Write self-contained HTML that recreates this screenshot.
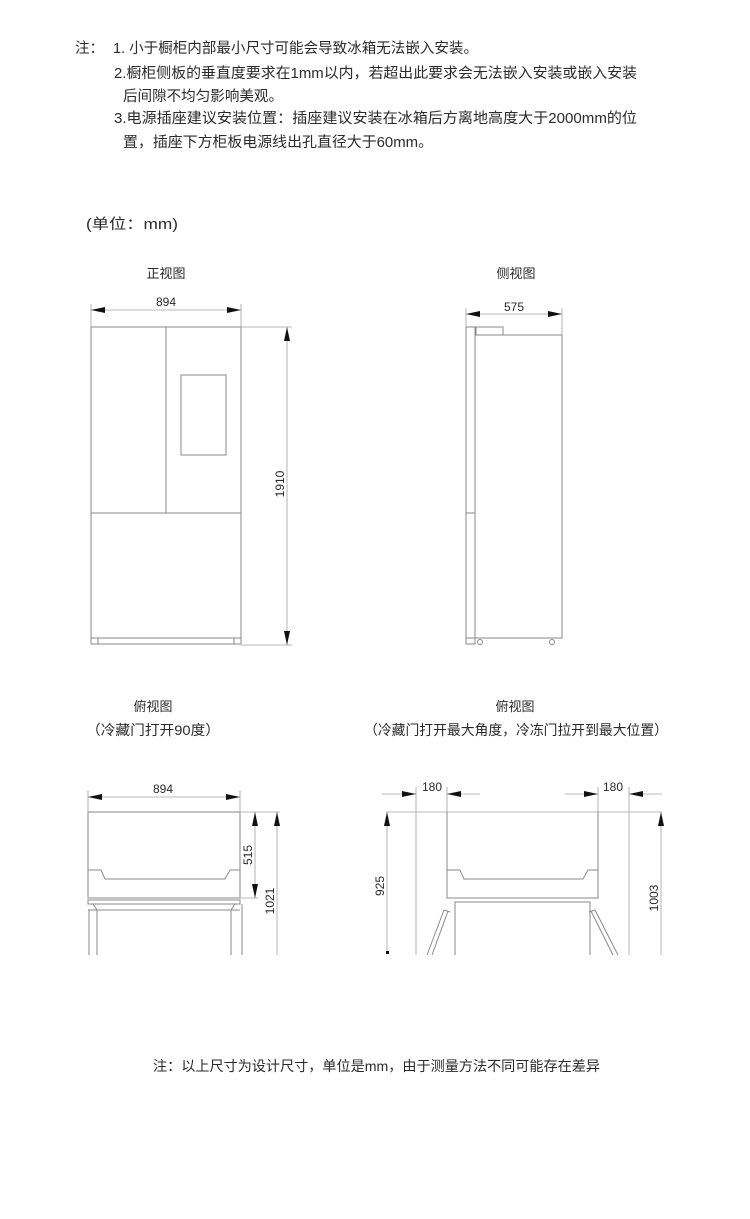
<!DOCTYPE html>
<html><head><meta charset="utf-8"><style>
html,body{margin:0;padding:0;background:#fff;}
svg{display:block;}
text{font-family:"Liberation Sans","Noto Sans CJK SC",sans-serif;fill:#2a2a2a;}
.l{stroke:#8a8a8a;stroke-width:1;fill:none;}
.d{stroke:#a0a0a0;stroke-width:0.8;fill:none;}
</style></head><body>
<svg width="750" height="1219" viewBox="0 0 750 1219" xmlns="http://www.w3.org/2000/svg">
<defs>
<marker id="a" viewBox="0 0 14 6" refX="14" refY="3" markerWidth="14" markerHeight="6" markerUnits="userSpaceOnUse" orient="auto"><path d="M0,0 L14,3 L0,6 z" fill="#111"/></marker>
</defs>
<!-- notes -->
<g font-size="14.5">
<text x="75" y="53">注：</text>
<text x="113" y="53" textLength="365" lengthAdjust="spacingAndGlyphs">1. 小于橱柜内部最小尺寸可能会导致冰箱无法嵌入安装。</text>
<text x="114" y="78" textLength="523" lengthAdjust="spacingAndGlyphs">2.橱柜侧板的垂直度要求在1mm以内，若超出此要求会无法嵌入安装或嵌入安装</text>
<text x="123" y="101" textLength="160" lengthAdjust="spacingAndGlyphs">后间隙不均匀影响美观。</text>
<text x="114" y="123" textLength="523" lengthAdjust="spacingAndGlyphs">3.电源插座建议安装位置：插座建议安装在冰箱后方离地高度大于2000mm的位</text>
<text x="123" y="147" textLength="310" lengthAdjust="spacingAndGlyphs">置，插座下方柜板电源线出孔直径大于60mm。</text>
<text x="86" y="229" textLength="92" lengthAdjust="spacingAndGlyphs">(单位：mm)</text>
</g>
<g font-size="13" text-anchor="middle">
<text x="166" y="278">正视图</text>
<text x="516" y="278">侧视图</text>
<text x="153" y="711">俯视图</text>
<text x="515" y="711">俯视图</text>
</g>
<g font-size="14">
<text x="86" y="735" textLength="134" lengthAdjust="spacingAndGlyphs">（冷藏门打开90度）</text>
<text x="364" y="735" textLength="304" lengthAdjust="spacingAndGlyphs">（冷藏门打开最大角度，冷冻门拉开到最大位置）</text>
<text x="153" y="1071" textLength="447" lengthAdjust="spacingAndGlyphs">注：以上尺寸为设计尺寸，单位是mm，由于测量方法不同可能存在差异</text>
</g>
<!-- front view -->
<rect class="l" x="91" y="327" width="150" height="311"/>
<line class="l" x1="166" y1="327" x2="166" y2="513"/>
<line class="l" x1="91" y1="513" x2="241" y2="513"/>
<rect class="l" x="181" y="375" width="45" height="80"/>
<rect class="l" x="91" y="638" width="150" height="6"/>
<line class="l" x1="98" y1="638" x2="98" y2="644"/><line class="l" x1="234" y1="638" x2="234" y2="644"/>
<line class="d" x1="91" y1="304" x2="91" y2="327"/><line class="d" x1="241" y1="304" x2="241" y2="327"/>
<line class="d" x1="128" y1="310" x2="91" y2="310" marker-end="url(#a)"/>
<line class="d" x1="205" y1="310" x2="241" y2="310" marker-end="url(#a)"/>
<line class="d" x1="128" y1="310" x2="205" y2="310"/>
<text x="166" y="306" font-size="12" text-anchor="middle">894</text>
<line class="d" x1="241" y1="327" x2="292" y2="327"/>
<line class="d" x1="241" y1="645" x2="292" y2="645"/>
<line class="d" x1="287" y1="480" x2="287" y2="327" marker-end="url(#a)"/>
<line class="d" x1="287" y1="480" x2="287" y2="645" marker-end="url(#a)"/>
<text font-size="12" text-anchor="middle" transform="translate(284,484) rotate(-90)">1910</text>
<!-- side view -->
<rect class="l" x="466" y="327" width="9" height="311"/>
<line class="l" x1="466" y1="513" x2="475" y2="513"/>
<rect class="l" x="475" y="335" width="87" height="303"/>
<rect class="l" x="476" y="327" width="27" height="8"/>
<rect class="l" x="466" y="638" width="9" height="6"/>
<circle class="l" cx="480" cy="642" r="2.5"/><circle class="l" cx="552" cy="642" r="2.5"/>
<line class="d" x1="466" y1="308" x2="466" y2="327"/><line class="d" x1="562" y1="308" x2="562" y2="335"/>
<line class="d" x1="514" y1="314" x2="466" y2="314" marker-end="url(#a)"/>
<line class="d" x1="514" y1="314" x2="562" y2="314" marker-end="url(#a)"/>
<text x="514" y="311" font-size="12" text-anchor="middle">575</text>
<!-- top view left -->
<path class="l" d="M88,812 H240 V898 H88 Z"/>
<path class="l" d="M88,870 H101 L105,879 H225 L230,870 H240"/>
<rect class="l" x="88" y="900" width="152" height="4"/>
<line class="l" x1="88" y1="910" x2="240" y2="910"/>
<path class="l" d="M89,910 V955 M97,910 V955 M97,910 L93,904 M231,910 V955 M242,904 V955 M231,910 L235,904"/>
<line class="d" x1="88" y1="790" x2="88" y2="812"/><line class="d" x1="240" y1="790" x2="240" y2="812"/>
<line class="d" x1="164" y1="797" x2="88" y2="797" marker-end="url(#a)"/>
<line class="d" x1="164" y1="797" x2="240" y2="797" marker-end="url(#a)"/>
<text x="163" y="793" font-size="12" text-anchor="middle">894</text>
<line class="d" x1="240" y1="812" x2="280" y2="812"/>
<line class="d" x1="240" y1="898" x2="258" y2="898"/>
<line class="d" x1="255" y1="855" x2="255" y2="812" marker-end="url(#a)"/>
<line class="d" x1="255" y1="855" x2="255" y2="898" marker-end="url(#a)"/>
<text font-size="12" text-anchor="middle" transform="translate(252,855) rotate(-90)">515</text>
<line class="d" x1="277" y1="900" x2="277" y2="812" marker-end="url(#a)"/>
<line class="d" x1="277" y1="900" x2="277" y2="955"/>
<text font-size="12" text-anchor="middle" transform="translate(274,901) rotate(-90)">1021</text>
<!-- top view right -->
<line class="d" x1="386" y1="812" x2="662" y2="812"/>
<path class="l" d="M447,812 V898 H598 V812"/>
<path class="l" d="M447,870 H460 L464,879 H583 L588,870 H598"/>
<path class="l" d="M455,955 V902 H590 V955"/>
<path class="l" d="M444,910 L427,955 M448,911 L432,955 M444,910 L450,912 M595,910 L618,955 M591,911 L613,955 M595,910 L589,912"/>
<line class="d" x1="416" y1="787" x2="416" y2="955"/><line class="d" x1="629" y1="787" x2="629" y2="955"/>
<line class="d" x1="447" y1="787" x2="447" y2="812"/><line class="d" x1="598" y1="787" x2="598" y2="812"/>
<line class="d" x1="382" y1="794" x2="416" y2="794" marker-end="url(#a)"/>
<line class="d" x1="480" y1="794" x2="447" y2="794" marker-end="url(#a)"/>
<line class="d" x1="565" y1="794" x2="598" y2="794" marker-end="url(#a)"/>
<line class="d" x1="662" y1="794" x2="629" y2="794" marker-end="url(#a)"/>
<text x="432" y="791" font-size="12" text-anchor="middle">180</text>
<text x="613" y="791" font-size="12" text-anchor="middle">180</text>
<line class="d" x1="387" y1="900" x2="387" y2="812" marker-end="url(#a)"/>
<line class="d" x1="387" y1="900" x2="387" y2="952"/>
<rect x="386" y="951" width="3" height="3" fill="#111"/>
<text font-size="12" text-anchor="middle" transform="translate(384,886) rotate(-90)">925</text>
<line class="d" x1="661" y1="900" x2="661" y2="812" marker-end="url(#a)"/>
<line class="d" x1="661" y1="900" x2="661" y2="955"/>
<text font-size="12" text-anchor="middle" transform="translate(658,898) rotate(-90)">1003</text>
</svg>
</body></html>
